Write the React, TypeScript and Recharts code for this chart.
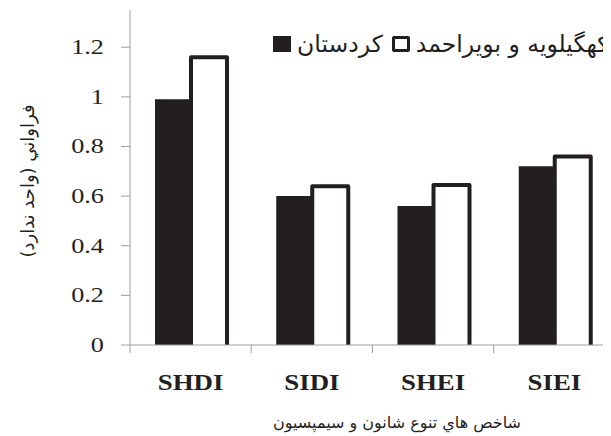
import { Bar, BarChart, Legend, XAxis, YAxis } from "recharts";

const categories = ["SHDI", "SIDI", "SHEI", "SIEI"];
const kurdistan = [0.99, 0.6, 0.56, 0.72];
const kohgiluyeh = [1.16, 0.64, 0.645, 0.76];
const yTicks = [0, 0.2, 0.4, 0.6, 0.8, 1, 1.2];
const seriesNames = ["کردستان", "کهگیلویه و بویراحمد"];
const yTitle = "فراواني (واحد ندارد)";
const xTitle = "شاخص هاي تنوع شانون و سيمپسيون";

const data = categories.map((name, i) => ({
  name,
  kurdistan: kurdistan[i],
  kohgiluyeh: kohgiluyeh[i],
}));

const INK = "#231f20";
const AXIS = "#9d9d9d";
const PERSIAN = "'DejaVu Sans', sans-serif";
const SERIF = "'Liberation Serif', 'Times New Roman', serif";
const BAND = 485 / 4;

function XTick({ x, y, payload }: any) {
  return (
    <g>
      <line x1={x - BAND / 2} x2={x - BAND / 2} y1={y} y2={y + 8} stroke={AXIS} />
      <text
        transform={`translate(${x},${y + 45}) scale(1.12,1)`}
        textAnchor="middle"
        fontFamily={SERIF}
        fontWeight="bold"
        fontSize={24}
        fill={INK}
      >
        {payload.value}
      </text>
    </g>
  );
}

function YTick({ x, y, payload }: any) {
  return (
    <text
      transform={`translate(${x},${y + 7}) scale(1.25,1)`}
      textAnchor="end"
      fontFamily={SERIF}
      fontSize={21}
      fill={INK}
    >
      {String(payload.value)}
    </text>
  );
}

function YTitle() {
  return (
    <text
      transform="translate(26,173) rotate(-90)"
      textAnchor="middle"
      fontFamily={PERSIAN}
      fontSize={18}
      fill={INK}
    >
      {yTitle}
    </text>
  );
}

function XTitle() {
  return (
    <text x={389} y={420} textAnchor="middle" fontFamily={PERSIAN} fontSize={16} fill={INK}>
      {xTitle}
    </text>
  );
}

// white bars have a border on three sides only, the axis covers the bottom
function OpenBar({ x, y, width, height }: any) {
  return (
    <path
      d={`M${x},${y + height} L${x},${y} L${x + width},${y} L${x + width},${y + height}`}
      fill="#fff"
      stroke={INK}
      strokeWidth={4}
      strokeLinejoin="round"
    />
  );
}

function LegendBox({ payload }: any) {
  return (
    <div
      style={{
        display: "flex",
        alignItems: "center",
        whiteSpace: "nowrap",
        fontFamily: PERSIAN,
        fontSize: 23.5,
        lineHeight: "28px",
        color: INK,
      }}
    >
      {(payload || []).map((p: any, i: number) => (
        <div key={i} style={{ display: "flex", alignItems: "center", marginRight: 9 }}>
          <span
            style={{
              display: "inline-block",
              boxSizing: "border-box",
              width: 18,
              height: 16,
              background: i === 0 ? INK : "#fff",
              border: `3.5px solid ${INK}`,
              borderRadius: i === 0 ? 0 : 2,
              marginRight: 6,
            }}
          />
          <span>{p.value}</span>
        </div>
      ))}
    </div>
  );
}

export default function App() {
  return (
    <div style={{ width: 603, height: 428, overflow: "hidden" }}>
      <BarChart
        width={607}
        height={428}
        data={data}
        margin={{ top: 2, right: 0, bottom: 31, left: 62 }}
        barCategoryGap={25}
        barGap={0}
      >
        <XAxis
          dataKey="name"
          height={60}
          interval={0}
          tickSize={0}
          tickMargin={0}
          tick={<XTick />}
          axisLine={{ stroke: AXIS }}
          label={<XTitle />}
        />
        <YAxis
          width={60}
          domain={[0, 1.35]}
          ticks={yTicks}
          tickSize={9}
          tickMargin={17}
          tick={<YTick />}
          axisLine={{ stroke: AXIS }}
          tickLine={{ stroke: AXIS }}
          label={<YTitle />}
        />
        <Legend
          verticalAlign="middle"
          align="center"
          layout="horizontal"
          content={<LegendBox />}
          wrapperStyle={{ top: 22, left: 265, width: 345 }}
        />
        <Bar dataKey="kurdistan" name={seriesNames[0]} fill={INK} isAnimationActive={false} />
        <Bar
          dataKey="kohgiluyeh"
          name={seriesNames[1]}
          fill="#fff"
          stroke={INK}
          shape={<OpenBar />}
          isAnimationActive={false}
        />
      </BarChart>
    </div>
  );
}
